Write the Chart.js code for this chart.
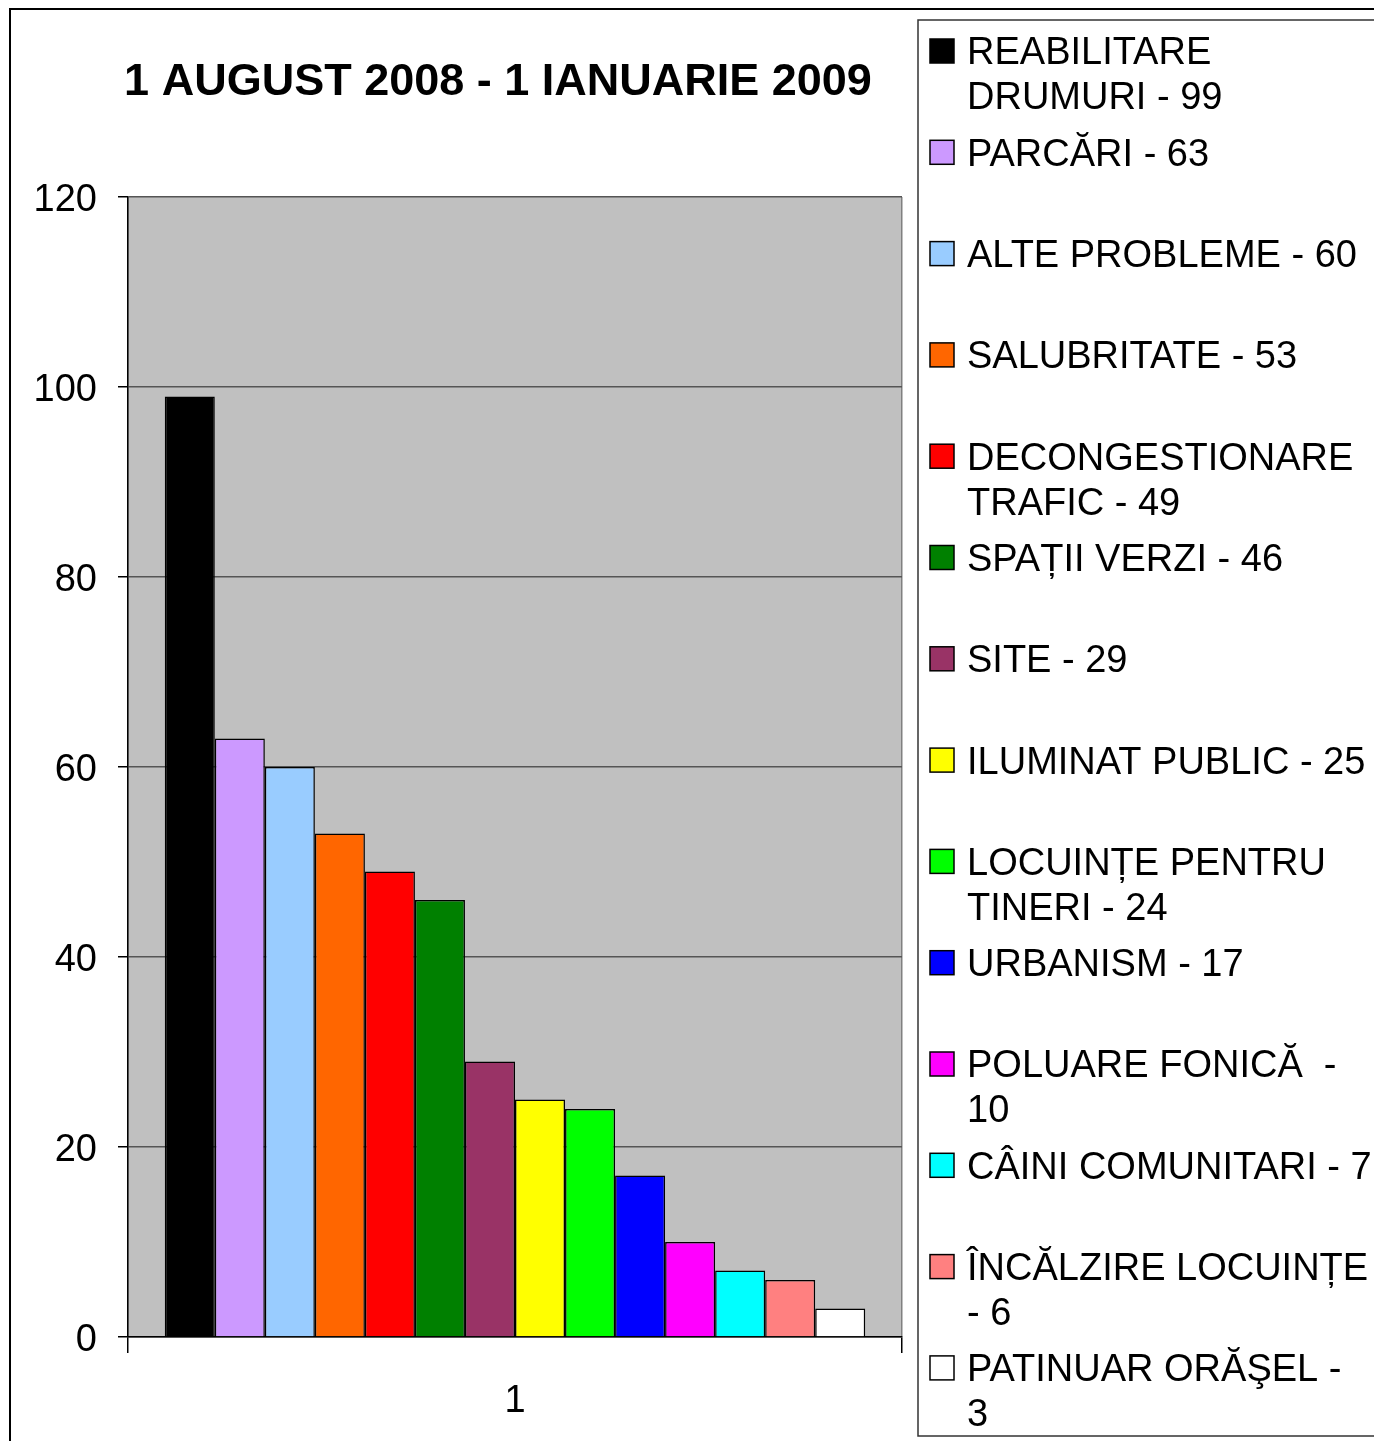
<!DOCTYPE html>
<html>
<head>
<meta charset="utf-8">
<script src="https://cdn.jsdelivr.net/npm/chart.js@4.4.0/dist/chart.umd.min.js"></script>
<style>
  html, body { margin: 0; padding: 0; background: #fff; }
  #wrap { width: 1374px; height: 1441px; position: relative; }
</style>
</head>
<body>
<div id="wrap"><canvas id="chart" width="1374" height="1441"></canvas></div>
<script>
// data
const chartTitle = '1 AUGUST 2008 - 1 IANUARIE 2009';
const categories = ['1'];
const seriesNames = [
    'REABILITARE DRUMURI', 'PARCĂRI', 'ALTE PROBLEME', 'SALUBRITATE',
    'DECONGESTIONARE TRAFIC', 'SPAȚII VERZI', 'SITE', 'ILUMINAT PUBLIC',
    'LOCUINȚE PENTRU TINERI', 'URBANISM', 'POLUARE FONICĂ ', 'CÂINI COMUNITARI',
    'ÎNCĂLZIRE LOCUINȚE', 'PATINUAR ORĂŞEL'
];
const seriesValues = [99, 63, 60, 53, 49, 46, 29, 25, 24, 17, 10, 7, 6, 3];
const seriesColors = [
    '#000000', '#CC99FF', '#99CCFF', '#FF6600', '#FF0000', '#008000', '#993366',
    '#FFFF00', '#00FF00', '#0000FF', '#FF00FF', '#00FFFF', '#FF8080', '#FFFFFF'
];
// how many words of each legend entry go on its first line (0 = no wrap), as in the picture
const legendFirstLineWords = [1, 0, 0, 0, 1, 0, 0, 0, 2, 0, 4, 0, 2, 3];
const yTicks = [0, 20, 40, 60, 80, 100, 120];

const FONT = '"Liberation Sans", Arial, sans-serif';

function legendLines(i) {
    const words = (seriesNames[i] + ' - ' + seriesValues[i]).split(' ');
    const n = legendFirstLineWords[i];
    if (!n) return [words.join(' ')];
    return [words.slice(0, n).join(' '), words.slice(n).join(' ')];
}

// gray plot background + outer frame, title and legend
const excelLook = {
    id: 'excelLook',
    beforeDraw(chart) {
        const ctx = chart.ctx, a = chart.chartArea;
        ctx.save();
        ctx.fillStyle = '#C0C0C0';
        ctx.fillRect(a.left, a.top, a.right - a.left, a.bottom - a.top);
        ctx.restore();
    },
    afterDraw(chart) {
        const ctx = chart.ctx;
        ctx.save();
        // outer frame
        ctx.strokeStyle = '#000';
        ctx.lineWidth = 2;
        ctx.strokeRect(10, 9, 1400, 1500);

        // title
        ctx.fillStyle = '#000';
        ctx.font = 'bold 45px ' + FONT;
        ctx.textAlign = 'center';
        ctx.textBaseline = 'middle';
        ctx.fillText(chartTitle, 498, 83);

        // legend box
        ctx.strokeStyle = '#333';
        ctx.lineWidth = 1.5;
        ctx.fillStyle = '#fff';
        ctx.fillRect(918, 20, 500, 1416);
        ctx.strokeRect(918, 20, 500, 1416);

        ctx.font = '38px ' + FONT;
        ctx.textAlign = 'left';
        seriesNames.forEach(function(name, i) {
            const y0 = 51 + i * 101.3;
            // marker
            ctx.fillStyle = seriesColors[i];
            ctx.fillRect(930, y0 - 12, 24, 24);
            ctx.strokeStyle = '#000';
            ctx.lineWidth = 1.5;
            ctx.strokeRect(930, y0 - 12, 24, 24);
            ctx.fillStyle = '#000';
            legendLines(i).forEach(function(line, k) {
                ctx.fillText(line, 967, y0 + 3 + k * 45);
            });
        });
        ctx.restore();
    }
};

const ctx = document.getElementById('chart').getContext('2d');
const chart = new Chart(ctx, {
    type: 'bar',
    data: {
        labels: categories,
        datasets: seriesNames.map(function(name, i) {
            return {
                label: name + ' - ' + seriesValues[i],
                data: [seriesValues[i]],
                backgroundColor: seriesColors[i],
                borderColor: '#000',
                borderWidth: 1.5,
                categoryPercentage: 0.905,
                barPercentage: 1.0
            };
        })
    },
    options: {
        responsive: false,
        animation: false,
        layout: { padding: { top: 197, right: 472, bottom: 0, left: 0 } },
        plugins: {
            legend: { display: false },
            title: { display: false },
            tooltip: { enabled: false }
        },
        scales: {
            x: {
                afterFit: function(scale) { scale.height = 104; },
                grid: { color: '#808080', lineWidth: 1.5, tickLength: 16, tickColor: '#000' },
                border: { color: '#000', width: 1.5 },
                ticks: { color: '#000', font: { family: FONT, size: 38 }, padding: 26 }
            },
            y: {
                min: 0,
                max: 120,
                afterFit: function(scale) { scale.width = 128; },
                afterBuildTicks: function(scale) {
                    scale.ticks = yTicks.map(function(v) { return { value: v }; });
                },
                grid: { color: '#555', lineWidth: 1.5, tickLength: 10, tickColor: '#000' },
                border: { color: '#000', width: 1.5 },
                ticks: { color: '#000', font: { family: FONT, size: 38 }, padding: 21, labelOffset: 4 }
            }
        }
    },
    plugins: [excelLook]
});
</script>
</body>
</html>
